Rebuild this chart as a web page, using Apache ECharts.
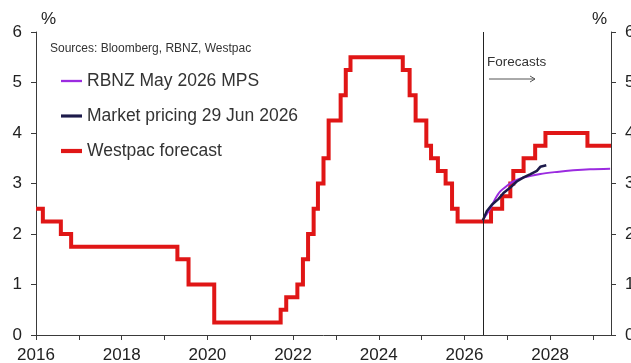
<!DOCTYPE html>
<html>
<head>
<meta charset="utf-8">
<title>OCR forecast</title>
<script src="https://cdn.jsdelivr.net/npm/echarts@6/dist/echarts.min.js"></script>
<style>
  html, body { margin: 0; padding: 0; background: #fff; }
  #main { width: 631px; height: 363px; }
</style>
</head>
<body>
<div id="main"></div>
<script type="text/javascript">
// data, x in decimal years
var westpacForecast = [
  [2016.00, 2.5], [2016.16, 2.25], [2016.58, 2.0], [2016.82, 1.75],
  [2019.30, 1.5], [2019.56, 1.0], [2020.16, 0.25], [2021.71, 0.5],
  [2021.84, 0.75], [2022.10, 1.0], [2022.23, 1.5], [2022.35, 2.0],
  [2022.48, 2.5], [2022.58, 3.0], [2022.71, 3.5], [2022.83, 4.25],
  [2023.11, 4.75], [2023.23, 5.25], [2023.34, 5.5], [2024.56, 5.25],
  [2024.72, 4.75], [2024.86, 4.25], [2025.11, 3.75], [2025.22, 3.5],
  [2025.38, 3.25], [2025.56, 3.0], [2025.71, 2.5], [2025.84, 2.25],
  [2026.62, 2.5], [2026.88, 2.75], [2027.07, 3.0], [2027.14, 3.25],
  [2027.38, 3.5], [2027.65, 3.75], [2027.89, 4.0], [2028.87, 3.75],
  [2029.42, 3.75]
];
var rbnzMps = [
  [2026.42, 2.27], [2026.60, 2.50], [2026.72, 2.70], [2026.83, 2.84],
  [2027.00, 2.96], [2027.14, 3.04], [2027.38, 3.12], [2027.77, 3.19],
  [2028.16, 3.23], [2028.54, 3.26], [2028.93, 3.28], [2029.40, 3.29]
];
var marketPricing = [
  [2026.43, 2.27], [2026.52, 2.45], [2026.64, 2.58], [2026.79, 2.69],
  [2026.91, 2.81], [2027.07, 2.92], [2027.22, 3.04], [2027.38, 3.12],
  [2027.53, 3.18], [2027.69, 3.25], [2027.77, 3.33], [2027.91, 3.36]
];
var forecastStart = 2026.44;
var xMin = 2016, xMax = 2029.42;
var yTicks = [0, 1, 2, 3, 4, 5, 6];

var font = "'Liberation Sans', Arial, sans-serif";
var chart = echarts.init(document.getElementById('main'));

var yAxisBase = {
  type: 'value', min: yTicks[0], max: yTicks[yTicks.length - 1], interval: 1,
  splitLine: { show: false },
  axisLine: { show: true, lineStyle: { color: '#3a3a3a', width: 1 } },
  axisTick: { show: true, length: 5, lineStyle: { color: '#3a3a3a' } },
  axisLabel: { margin: 14, color: '#222', fontSize: 17, fontFamily: font }
};

// legend icons: plain line strokes of different weights
function lineIcon(h) { return 'path://M0,0 H20 V' + h + ' H0 Z'; }

var option = {
  animation: false,
  backgroundColor: '#fff',
  grid: { left: 36, right: 20, top: 32, bottom: 28, containLabel: false, outerBoundsMode: 'none' },
  title: {
    text: 'Sources: Bloomberg, RBNZ, Westpac',
    left: 45, top: 38,
    textStyle: { fontSize: 12, fontWeight: 'normal', color: '#333', fontFamily: font }
  },
  legend: {
    orient: 'vertical', left: 56, top: 67,
    itemWidth: 21, itemHeight: 12, itemGap: 17,
    data: [
      { name: 'RBNZ May 2026 MPS', icon: lineIcon(2.2) },
      { name: 'Market pricing 29 Jun 2026', icon: lineIcon(3) },
      { name: 'Westpac forecast', icon: lineIcon(4) }
    ],
    textStyle: { fontSize: 17.5, color: '#333', fontFamily: font }
  },
  xAxis: {
    type: 'value', min: xMin, max: xMax, interval: 1,
    splitLine: { show: false },
    axisLine: { lineStyle: { color: '#3a3a3a' } },
    axisTick: { show: true, length: 5, lineStyle: { color: '#3a3a3a' } },
    axisLabel: {
      margin: 12, color: '#222', fontSize: 17, fontFamily: font, showMaxLabel: false,
      formatter: function (v) { return (v % 2 === 0) ? String(v) : ''; }
    }
  },
  yAxis: [
    Object.assign({}, yAxisBase, { position: 'left' }),
    Object.assign({}, yAxisBase, { position: 'right' })
  ],
  graphic: [
    { type: 'text', left: 41, top: 11, style: { text: '%', fontSize: 17, fill: '#222', fontFamily: font } },
    { type: 'text', left: 592, top: 11, style: { text: '%', fontSize: 17, fill: '#222', fontFamily: font } },
    { type: 'text', left: 487, top: 55, style: { text: 'Forecasts', fontSize: 13.5, fill: '#333', fontFamily: font } },
    { type: 'line', shape: { x1: 489, y1: 79, x2: 535, y2: 79 }, style: { stroke: '#555', lineWidth: 1 } },
    { type: 'polyline', shape: { points: [[530, 76], [535, 79], [530, 82]] }, style: { stroke: '#555', lineWidth: 1, fill: null } }
  ],
  series: [
    {
      name: 'RBNZ May 2026 MPS', type: 'line', data: rbnzMps, smooth: 0.3,
      symbol: 'none', color: '#9b2be0', lineStyle: { width: 2, color: '#9b2be0' }, z: 3
    },
    {
      name: 'Market pricing 29 Jun 2026', type: 'line', data: marketPricing,
      symbol: 'none', color: '#1c1a4a', lineStyle: { width: 2.5, color: '#1c1a4a' }, z: 4
    },
    {
      name: 'Westpac forecast', type: 'line', data: westpacForecast, step: 'end',
      symbol: 'none', color: '#e01616', lineStyle: { width: 4, color: '#e01616', join: 'miter' }, z: 2,
      markLine: {
        silent: true, symbol: 'none',
        label: { show: false },
        lineStyle: { color: '#222', width: 1, type: 'solid' },
        data: [{ xAxis: forecastStart }]
      }
    }
  ]
};
chart.setOption(option);
</script>
</body>
</html>
